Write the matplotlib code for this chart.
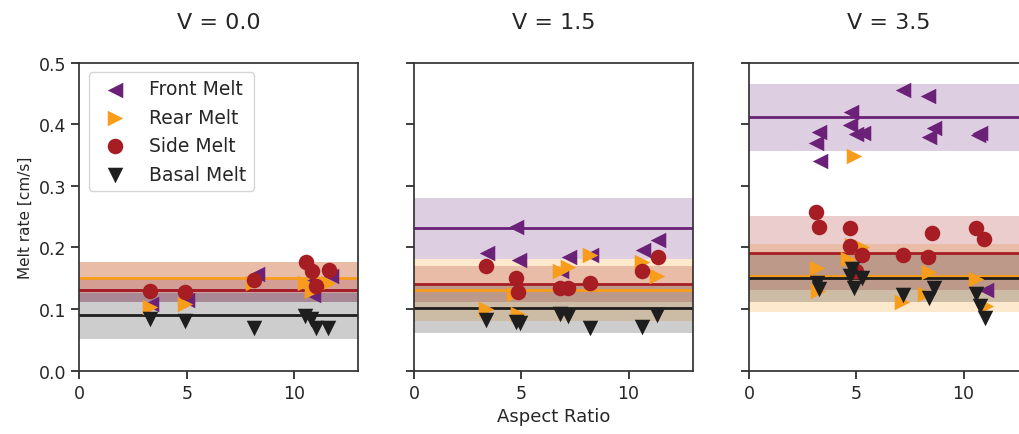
import matplotlib
matplotlib.use("Agg")
import matplotlib.pyplot as plt

plt.rcParams['font.family'] = 'DejaVu Sans'
plt.rcParams['text.color'] = '.15'
plt.rcParams['axes.labelcolor'] = '.15'
plt.rcParams['xtick.color'] = '.15'
plt.rcParams['ytick.color'] = '.15'
plt.rcParams['axes.edgecolor'] = '.2'

# panel titles
speeds = ['V = 0.0', 'V = 1.5', 'V = 3.5']
series = ['Front Melt', 'Rear Melt', 'Side Melt', 'Basal Melt']

# scatter data, one list per panel
front_ar = [[3.35, 5.0, 8.28, 10.6, 10.9, 11.7],
            [3.4, 4.88, 4.75, 6.85, 7.2, 8.26, 10.67, 11.37],
            [7.2, 8.36, 4.75, 4.72, 5.0, 5.33, 3.26, 3.1, 3.3, 8.6, 8.37, 10.67, 10.75, 11.05]]
front_rate = [[0.109, 0.115, 0.157, 0.14, 0.123, 0.154],
              [0.191, 0.179, 0.234, 0.162, 0.184, 0.188, 0.196, 0.212],
              [0.455, 0.445, 0.420, 0.398, 0.384, 0.385, 0.387, 0.370, 0.340, 0.394, 0.380, 0.383, 0.386, 0.131]]

rear_ar = [[3.29, 4.9, 8.1, 10.5, 10.85, 11.6],
           [3.35, 4.83, 4.64, 6.78, 7.17, 8.18, 10.64, 11.34],
           [3.15, 3.2, 4.78, 5.25, 4.63, 7.15, 8.4, 8.2, 10.56, 11.05, 4.9]]
rear_rate = [[0.103, 0.108, 0.142, 0.143, 0.130, 0.142],
             [0.100, 0.092, 0.125, 0.162, 0.169, 0.187, 0.176, 0.154],
             [0.166, 0.130, 0.204, 0.200, 0.181, 0.111, 0.160, 0.125, 0.149, 0.105, 0.349]]

side_ar = [[3.31, 4.93, 8.15, 10.58, 10.85, 11.0, 11.63],
           [3.36, 4.74, 4.86, 6.78, 7.17, 8.18, 10.64, 11.36],
           [3.1, 3.26, 4.72, 4.69, 5.25, 4.98, 7.16, 8.33, 8.55, 10.6, 10.97]]
side_rate = [[0.130, 0.127, 0.148, 0.177, 0.162, 0.137, 0.163],
             [0.170, 0.150, 0.127, 0.134, 0.135, 0.142, 0.161, 0.184],
             [0.257, 0.234, 0.231, 0.203, 0.188, 0.162, 0.188, 0.184, 0.223, 0.231, 0.214]]

basal_ar = [[3.3, 4.92, 8.15, 10.5, 10.8, 11.0, 11.6],
            [3.35, 4.75, 4.95, 6.8, 7.17, 8.18, 10.64, 11.34],
            [3.15, 3.26, 4.8, 4.7, 4.9, 5.28, 7.16, 8.4, 8.6, 10.6, 10.75, 11.0]]
basal_rate = [[0.084, 0.081, 0.069, 0.089, 0.084, 0.069, 0.069],
              [0.082, 0.079, 0.077, 0.092, 0.089, 0.070, 0.071, 0.090],
              [0.143, 0.133, 0.165, 0.154, 0.134, 0.150, 0.123, 0.118, 0.135, 0.125, 0.105, 0.086]]

# mean lines and bands (low, high) per panel
front_mean = [0.131, 0.231, 0.411]
front_lo = [0.111, 0.181, 0.356]
front_hi = [0.151, 0.280, 0.465]
rear_mean = [0.151, 0.131, 0.153]
rear_lo = [0.126, 0.081, 0.096]
rear_hi = [0.176, 0.181, 0.206]
side_mean = [0.131, 0.141, 0.191]
side_lo = [0.111, 0.111, 0.131]
side_hi = [0.176, 0.170, 0.251]
basal_mean = [0.091, 0.101, 0.151]
basal_lo = [0.052, 0.061, 0.111]
basal_hi = [0.126, 0.141, 0.189]

colors = ['#6b2177', '#f89c1c', '#a61d24', '#1e1e1e']
markers = ['<', '>', 'o', 'v']

fig = plt.figure(figsize=(10.2, 4.35), dpi=100)
lefts = [0.0779, 0.4059, 0.7343]
axes = [fig.add_axes([l, 0.1455, 0.2735, 0.7083]) for l in lefts]

all_ar = [front_ar, rear_ar, side_ar, basal_ar]
all_rate = [front_rate, rear_rate, side_rate, basal_rate]
all_mean = [front_mean, rear_mean, side_mean, basal_mean]
all_lo = [front_lo, rear_lo, side_lo, basal_lo]
all_hi = [front_hi, rear_hi, side_hi, basal_hi]

for i, ax in enumerate(axes):
    # shaded bands, then mean lines, then the points on top
    for k in range(4):
        ax.axhspan(all_lo[k][i], all_hi[k][i], color=colors[k], alpha=0.22, lw=0)
    for k in range(4):
        ax.axhline(all_mean[k][i], color=colors[k], lw=2)
    for k in range(4):
        ax.scatter(all_ar[k][i], all_rate[k][i], s=125, marker=markers[k],
                   color=colors[k], lw=0, label=series[k], zorder=3)
    ax.set_xlim(0, 13)
    ax.set_ylim(0, 0.5)
    ax.set_xticks([0, 5, 10])
    ax.set_yticks([0, 0.1, 0.2, 0.3, 0.4, 0.5])
    ax.tick_params(labelsize=12.5, length=6, width=1.25)
    for sp in ax.spines.values():
        sp.set_linewidth(1.25)
    ax.set_title(speeds[i], fontsize=16, pad=25)
    if i > 0:
        ax.set_yticklabels([])

axes[0].set_ylabel('Melt rate [cm/s]', fontsize=11)
axes[1].set_xlabel('Aspect Ratio', fontsize=13)
axes[0].legend(loc='upper left', fontsize=13.5)

fig.savefig('out.png', dpi=100)
